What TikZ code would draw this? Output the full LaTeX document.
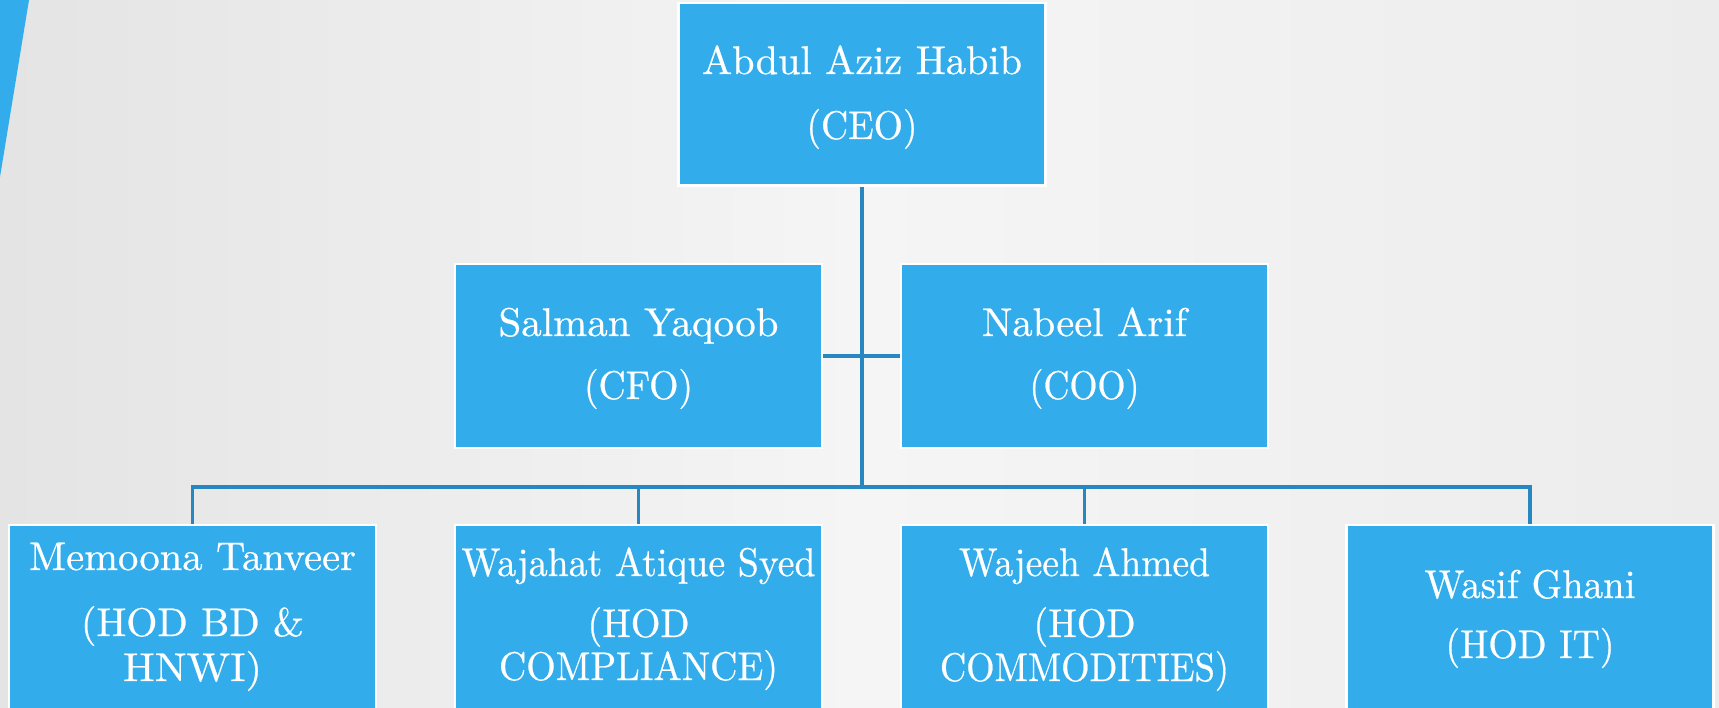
\documentclass[tikz,border=0pt]{standalone}
\usepackage{fontspec}
\usepackage{graphicx}
\newfontfamily\orgfont{lmroman10-regular.otf}[FakeBold=0.6]
\definecolor{boxblue}{RGB}{51,172,235}
\definecolor{linkblue}{RGB}{40,134,192}
\definecolor{bgL}{RGB}{228,228,228}
\definecolor{bgM}{RGB}{245,245,245}
\definecolor{bgR}{RGB}{236,236,236}
\newcommand{\fitw}[2]{\resizebox{#1}{\height}{#2}}
\begin{document}
\begin{tikzpicture}[x=1pt,y=-1pt,
  orgbox/.style={rectangle, fill=boxblue, draw=white, line width=2.5pt, minimum width=367pt, inner sep=0pt},
  lbl/.style={text=white, font=\orgfont\fontsize{40}{48}\selectfont, inner sep=0pt, anchor=base},
  conn/.style={draw=linkblue, line width=3.5pt}]
\clip (0,0) rectangle (1719,708);
\useasboundingbox (0,0) rectangle (1719,708);
\shade[left color=bgL, right color=bgR, middle color=bgM] (0,0) rectangle (1719,708);
\fill[boxblue] (0,0) -- (29,0) -- (0,177) -- cycle;

% boxes
\node[orgbox, minimum height=182.5pt] (ceo) at (862,94.5) {};
\node[orgbox, minimum height=183.5pt] (cfo) at (638.5,356) {};
\node[orgbox, minimum height=183.5pt] (coo) at (1084.5,356) {};
\node[orgbox, minimum height=184pt] (b1) at (192.5,617) {};
\node[orgbox, minimum height=184pt] (b2) at (638.5,617) {};
\node[orgbox, minimum height=184pt] (b3) at (1084.5,617) {};
\node[orgbox, minimum height=184pt] (b4) at (1530,617) {};

% labels
\node[lbl] (ceoA) at (862,74) {\fitw{320pt}{Abdul Aziz Habib}};
\node[lbl] (ceoB) at (862,139) {\fitw{111pt}{(CEO)}};
\node[lbl] (cfoA) at (638.5,336) {\fitw{280pt}{Salman Yaqoob}};
\node[lbl] (cfoB) at (638.5,399) {\fitw{109pt}{(CFO)}};
\node[lbl] (cooA) at (1084.5,336) {\fitw{205pt}{Nabeel Arif}};
\node[lbl] (cooB) at (1084.5,399) {\fitw{110pt}{(COO)}};
\node[lbl] (b1A) at (192.5,570) {\fitw{327pt}{Memoona Tanveer}};
\node[lbl] (b1B) at (192.5,636) {\fitw{223pt}{(HOD BD \&}};
\node[lbl] (b1C) at (192.5,681) {\fitw{139pt}{HNWI)}};
\node[lbl] (b2A) at (638.5,576) {\fitw{354pt}{Wajahat Atique Syed}};
\node[lbl] (b2B) at (638.5,637) {\fitw{102pt}{(HOD}};
\node[lbl] (b2C) at (638.5,680) {\fitw{279pt}{COMPLIANCE)}};
\node[lbl] (b3A) at (1084.5,576) {\fitw{251pt}{Wajeeh Ahmed}};
\node[lbl] (b3B) at (1084.5,637) {\fitw{102pt}{(HOD}};
\node[lbl] (b3C) at (1084.5,681) {\fitw{289pt}{COMMODITIES)}};
\node[lbl] (b4A) at (1530,598) {\fitw{211pt}{Wasif Ghani}};
\node[lbl] (b4B) at (1530,658) {\fitw{169pt}{(HOD IT)}};

% connectors
\coordinate (bus) at (862,487);
\draw[conn] (ceo.south) -- (bus);
\draw[conn] (cfo.east) -- (coo.west);
\draw[conn] (bus) -| (b1.north);
\draw[conn] (bus) -| (b2.north);
\draw[conn] (bus) -| (b3.north);
\draw[conn] (bus) -| (b4.north);
\end{tikzpicture}
\end{document}
